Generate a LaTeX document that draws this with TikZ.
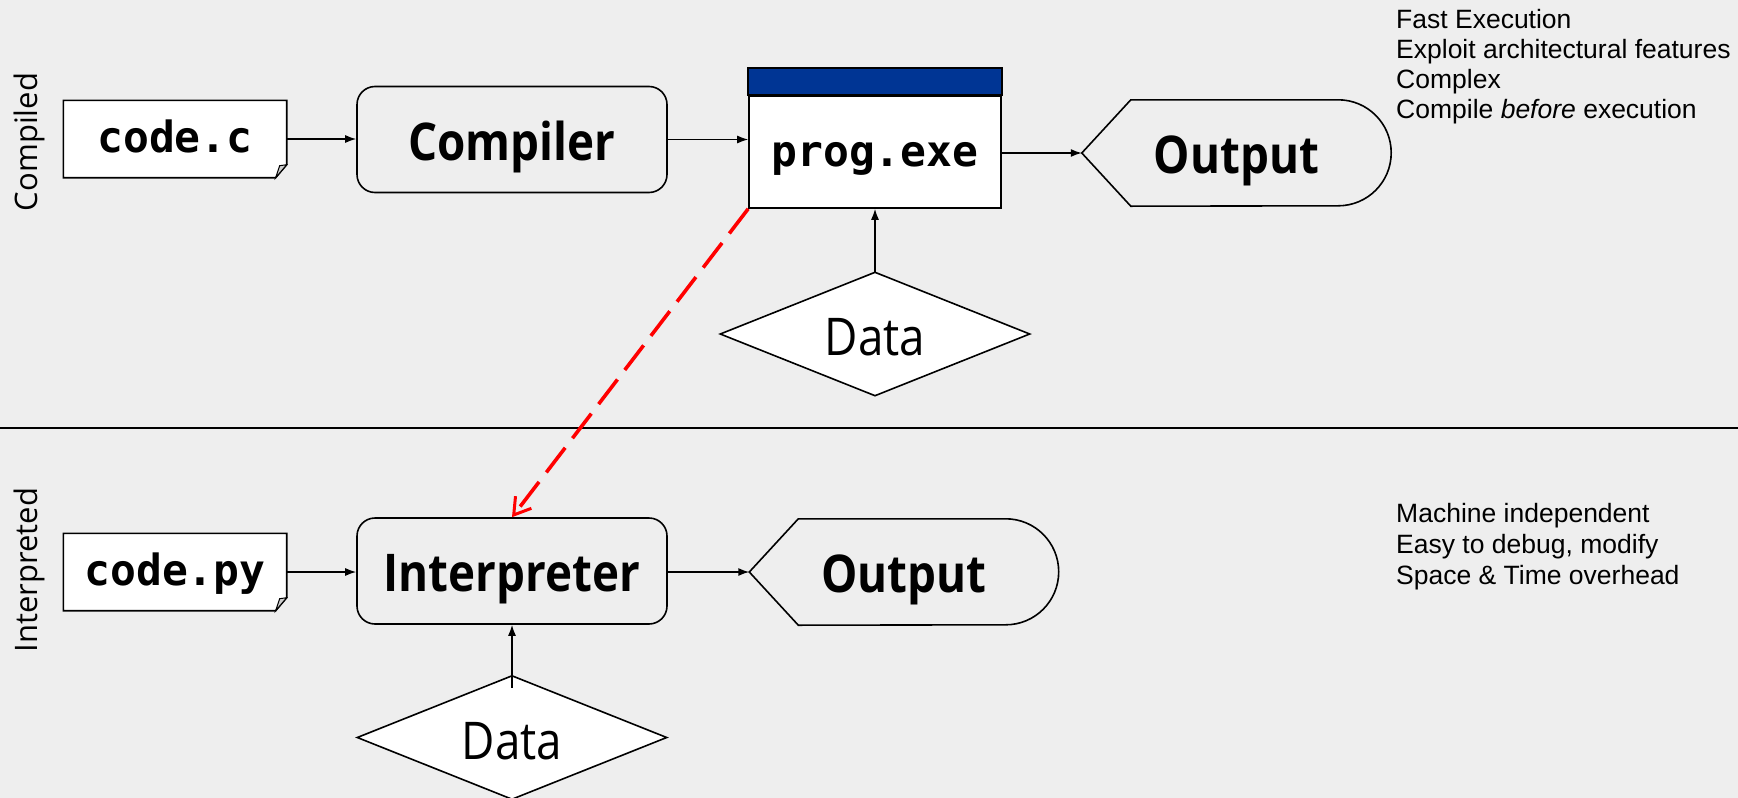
\documentclass[tikz,border=0pt]{standalone}
\usepackage{fontspec}
\setmainfont{Liberation Sans}
\newfontfamily\nodefont[FakeStretch=0.88]{Open Sans}
\newfontfamily\codefont{DejaVu Sans Mono}
\newfontfamily\labfont{Open Sans}
\usetikzlibrary{arrows.meta}
\definecolor{bg}{RGB}{238,238,238}
\definecolor{hdr}{RGB}{0,53,148}
\definecolor{foldgray}{RGB}{205,205,205}
\pgfdeclarelayer{back}
\pgfdeclarelayer{shapes}
\pgfsetlayers{back,shapes,main}
\tikzset{
  codefile/.style={minimum width=223pt, minimum height=77pt, inner sep=0pt,
    text height=27pt, text depth=0pt,
    font=\codefont\bfseries\fontsize{43}{50}\selectfont},
  procbox/.style={draw, fill=bg, rounded corners=18pt, line width=1.6pt,
    minimum width=310pt, minimum height=106pt, inner sep=0pt,
    text height=41pt, text depth=0pt,
    font=\nodefont\bfseries\fontsize{52}{60}\selectfont},
  progbox/.style={draw, fill=white, line width=1.6pt, minimum width=252pt,
    minimum height=112pt, inner sep=0pt, text height=29pt, text depth=0pt,
    font=\codefont\bfseries\fontsize{43}{50}\selectfont},
  outshape/.style={minimum width=309pt, minimum height=106pt, inner sep=0pt,
    text height=41pt, text depth=0pt,
    font=\nodefont\bfseries\fontsize{52}{60}\selectfont},
  datashape/.style={minimum width=309pt, minimum height=123pt, inner sep=0pt,
    text height=43pt, text depth=0pt,
    font=\nodefont\fontsize{52}{60}\selectfont},
  conn/.style={line width=1.4pt, -{Latex[length=11pt,width=8pt]}},
  outline/.style={line width=1.6pt},
  sidetext/.style={anchor=base west, inner sep=0pt, font=\fontsize{26.5}{30}\selectfont},
  sectlabel/.style={rotate=90, inner sep=0pt, font=\labfont\fontsize{31}{36}\selectfont}
}
\newcommand\drawfile[1]{%
  \draw[outline, fill=white] (#1.north west) -- (#1.north east)
    -- ([yshift=13pt]#1.south east) -- ([xshift=-11pt]#1.south east)
    -- (#1.south west) -- cycle;
  \draw[line width=1pt, fill=foldgray] ([yshift=13pt]#1.south east)
    -- ([xshift=-11pt]#1.south east) -- ([xshift=-7pt,yshift=12pt]#1.south east) -- cycle;}
\newcommand\drawout[1]{%
  \draw[outline] (#1.west) -- ([xshift=49pt]#1.north west)
    -- ([xshift=-53pt]#1.north east) arc[start angle=90, end angle=-90, radius=53pt]
    -- ([xshift=49pt]#1.south west) -- cycle;}
\newcommand\drawdata[1]{%
  \draw[outline, fill=white] (#1.north) -- (#1.east) -- (#1.south) -- (#1.west) -- cycle;}
\begin{document}
\begin{tikzpicture}[x=1pt,y=-1pt]
\begin{pgfonlayer}{back}
  \fill[bg] (0,0) rectangle (1738,798);
\end{pgfonlayer}
\useasboundingbox (0,0) rectangle (1738,798);

% section labels
\node[sectlabel] (lcomp) at (29,142) {Compiled};
\node[sectlabel] (linterp) at (29,570) {Interpreted};

% upper row
\node[codefile] (codec) at (175,139) {code.c};
\node[procbox] (compiler) at (512,139.5) {Compiler};
\node[progbox] (prog) at (875,152) {prog.exe};
\node[outshape] (out1) at (1236.5,153) {Output};
\node[datashape] (data1) at (875,334) {Data};

% lower row
\node[codefile] (codepy) at (175,572) {code.py};
\node[procbox] (interp) at (512,571) {Interpreter};
\node[outshape] (out2) at (904,572) {Output};
\node[datashape] (data2) at (512,737.5) {Data};

\begin{pgfonlayer}{shapes}
  \drawfile{codec}
  \drawfile{codepy}
  \drawout{out1}
  \drawout{out2}
  \drawdata{data1}
  \drawdata{data2}
  \draw[outline, fill=hdr] (prog.north west) rectangle ([yshift=27pt]prog.north east);
\end{pgfonlayer}

% separator
\coordinate (sepl) at (0,428);
\coordinate (sepr) at (1738,428);
\draw[line width=1.5pt] (sepl) -- (sepr);

% connectors
\draw[conn] (codec.east) -- (codec.east -| compiler.west);
\draw[conn] (compiler.east) -- (compiler.east -| prog.west);
\draw[conn] (prog.east |- out1.west) -- (out1.west);
\draw[conn] (data1.north) -- (prog.south);
\draw[conn] (codepy.east) -- (codepy.east -| interp.west);
\draw[conn] (interp.east |- out2.west) -- (out2.west);
\draw[conn] ([yshift=-12pt]data2.north) -- (interp.south);
\draw[red, line width=3.6pt, dash pattern=on 31pt off 12pt,
  -{Straight Barb[length=16pt,width=20pt,line width=3pt]}] (prog.south west) -- (interp.north);

% side texts
\node[sidetext] (t1) at (1396,28.5) {Fast Execution};
\node[sidetext] (t2) at (1396,58.5) {Exploit architectural features};
\node[sidetext] (t3) at (1396,88.5) {Complex};
\node[sidetext] (t4) at (1396,118.5) {Compile \textit{before} execution};
\node[sidetext] (t5) at (1396,522) {Machine independent};
\node[sidetext] (t6) at (1396,553) {Easy to debug, modify};
\node[sidetext] (t7) at (1396,584) {Space \& Time overhead};
\end{tikzpicture}
\end{document}
